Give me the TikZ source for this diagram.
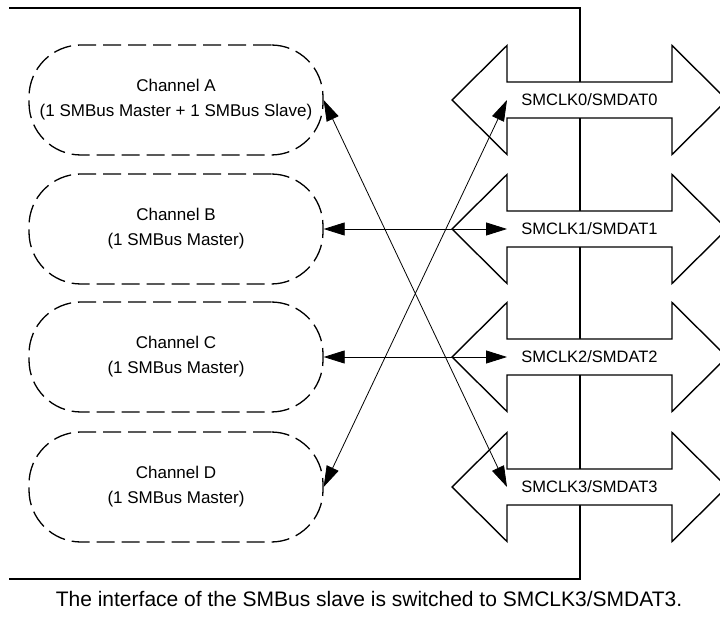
\documentclass[tikz,border=0pt]{standalone}
\usepackage{fontspec}
\setmainfont{Liberation Sans}
\usetikzlibrary{arrows.meta}
\begin{document}
\begin{tikzpicture}[x=1pt,y=-1pt,
  chan/.style={draw, line width=1.3pt, dash pattern=on 18pt off 7pt,
    rounded corners=52pt, minimum width=294pt, minimum height=110pt,
    align=center, font=\fontsize{17}{25}\selectfont},
  bus/.style={draw, line width=1.4pt, fill=white, line join=miter},
  buslabel/.style={font=\fontsize{16.5}{20}\selectfont, inner sep=0pt},
  conn/.style={line width=0.8pt,
    {Triangle[length=21pt,width=13pt]}-{Triangle[length=21pt,width=13pt]}},
  frameline/.style={line width=2.6pt, line join=miter}]
\useasboundingbox (0,0) rectangle (720,617);
\clip (0,0) rectangle (720,617);
% frame
\draw[frameline] (9,8) -- (580,8) -- (580,579) -- (9,579);
% buses
\foreach \i/\cy in {0/100,1/229,2/357,3/487}{
  \draw[bus] (452,\cy) -- (507,{\cy-54.5}) -- (507,{\cy-18}) -- (672,{\cy-18})
    -- (672,{\cy-54.5}) -- (727,\cy) -- (672,{\cy+54.5}) -- (672,{\cy+18})
    -- (507,{\cy+18}) -- (507,{\cy+54.5}) -- cycle;
  \node[buslabel] (s\i) at (589.5,\cy) {SMCLK\i/SMDAT\i};
  \coordinate (p\i) at (507,\cy);
}
% channels
\node[chan] (A) at (176,100) {Channel A\\(1 SMBus Master + 1 SMBus Slave)};
\node[chan] (B) at (176,229) {Channel B\\(1 SMBus Master)};
\node[chan] (C) at (176,357) {Channel C\\(1 SMBus Master)};
\node[chan] (D) at (176,487) {Channel D\\(1 SMBus Master)};
% connectors
\draw[conn] (A.east) -- (p3);
\draw[conn] (B.east) -- (p1);
\draw[conn] (C.east) -- (p2);
\draw[conn] (D.east) -- (p0);
% caption
\node[font=\fontsize{21}{25}\selectfont] (cap) at (369,599)
  {The interface of the SMBus slave is switched to SMCLK3/SMDAT3.};
\end{tikzpicture}
\end{document}
